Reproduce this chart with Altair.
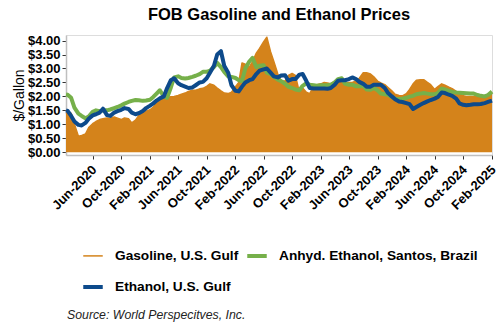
import altair as alt
import pandas as pd

title_text = "FOB Gasoline and Ethanol Prices"
y_title = "$/Gallon"
source_text = "Source: World Perspecitves, Inc."

series_names = ["Gasoline, U.S. Gulf", "Anhyd. Ethanol, Santos, Brazil", "Ethanol, U.S. Gulf"]
series_colors = ["#D4831B", "#76B04A", "#0D4A8B"]
series_widths = [1.5, 4.0, 4.0]

# semi-monthly observation dates
dates = ["2020-02-08", "2020-02-15"] + [
    d.strftime("%Y-%m-%d") for d in pd.date_range("2020-03-01", "2025-02-01", freq="SMS")
]

gasoline = [
    1.42, 1.38, 1.40, 1.00, 0.57, 0.60, 0.65, 0.88, 1.02, 1.10,
    1.17, 1.20, 1.23, 1.22, 1.26, 1.22, 1.17, 1.23, 1.20, 1.05,
    1.15, 1.32, 1.40, 1.47, 1.52, 1.62, 1.75, 1.85, 1.92, 1.97,
    1.99, 2.00, 2.03, 2.08, 2.12, 2.18, 2.22, 2.22, 2.27, 2.29,
    2.36, 2.45, 2.40, 2.30, 2.20, 2.12, 2.10, 2.15, 2.35, 2.50,
    3.20, 3.15, 3.05, 3.25, 3.55, 3.72, 3.95, 4.12, 3.60, 3.25,
    2.80, 2.55, 2.55, 2.75, 2.82, 2.75, 2.15, 2.30, 2.15, 2.10,
    2.35, 2.42, 2.45, 2.50, 2.48, 2.45, 2.55, 2.55, 2.50, 2.48,
    2.50, 2.50, 2.55, 2.65, 2.85, 2.85, 2.80, 2.70, 2.55, 2.48,
    2.42, 2.32, 2.20, 2.08, 2.03, 2.02, 2.10, 2.25, 2.45, 2.58,
    2.60, 2.60, 2.50, 2.42, 2.25, 2.35, 2.45, 2.40, 2.33, 2.28,
    2.18, 2.10, 2.02, 2.00, 2.00, 2.00, 2.00, 1.95, 1.97, 2.02, 2.10,
]

ethanol_gulf = [
    1.50, 1.48, 1.30, 1.10, 0.98, 0.96, 1.05, 1.20, 1.32, 1.36,
    1.42, 1.56, 1.33, 1.30, 1.42, 1.47, 1.52, 1.58, 1.55, 1.42,
    1.36, 1.40, 1.48, 1.58, 1.67, 1.75, 1.85, 1.93, 2.00, 2.30,
    2.58, 2.65, 2.47, 2.40, 2.35, 2.30, 2.32, 2.40, 2.50, 2.52,
    2.65, 2.85, 3.10, 3.50, 3.62, 3.10, 2.85, 2.40, 2.20, 2.18,
    2.35, 2.50, 2.58, 2.62, 2.80, 2.92, 2.97, 3.00, 2.85, 2.72,
    2.68, 2.75, 2.76, 2.56, 2.62, 2.62, 2.78, 2.80, 2.55, 2.30,
    2.28, 2.28, 2.28, 2.28, 2.27, 2.30, 2.42, 2.56, 2.58, 2.58,
    2.62, 2.68, 2.62, 2.52, 2.45, 2.35, 2.35, 2.42, 2.42, 2.42,
    2.30, 2.12, 2.00, 1.90, 1.82, 1.80, 1.76, 1.72, 1.55, 1.62,
    1.70, 1.76, 1.82, 1.87, 1.92, 1.98, 2.14, 2.12, 2.06, 2.02,
    1.92, 1.75, 1.70, 1.68, 1.70, 1.72, 1.72, 1.73, 1.76, 1.80, 1.85,
]

ethanol_santos = [
    2.07, 2.06, 1.95, 1.60, 1.38, 1.30, 1.22, 1.28, 1.45, 1.50,
    1.47, 1.50, 1.50, 1.53, 1.58, 1.62, 1.68, 1.74, 1.80, 1.84,
    1.87, 1.86, 1.84, 1.85, 1.88, 1.98, 2.10, 2.22, 2.00, 1.95,
    2.32, 2.68, 2.72, 2.66, 2.64, 2.66, 2.70, 2.74, 2.80, 2.88,
    2.88, 2.92, 3.05, 3.20, 3.05, 2.88, 2.72, 2.70, 2.66, 2.58,
    2.55, 3.00, 3.25, 3.38, 3.05, 3.10, 3.12, 2.85, 2.80, 2.70,
    2.60, 2.55, 2.45, 2.35, 2.30, 2.25, 2.22, 2.38, 2.47, 2.42,
    2.40, 2.38, 2.40, 2.40, 2.40, 2.42, 2.50, 2.62, 2.65, 2.45,
    2.42, 2.42, 2.36, 2.36, 2.38, 2.25, 2.24, 2.30, 2.22, 2.10,
    2.08, 2.06, 1.98, 1.92, 1.90, 1.92, 1.95, 1.99, 2.02, 2.08,
    2.10, 2.12, 2.10, 2.08, 2.08, 2.12, 2.28, 2.25, 2.20, 2.16,
    2.14, 2.13, 2.12, 2.11, 2.10, 2.10, 2.05, 2.02, 2.00, 2.05, 2.17,
]

y_ticks = [0.0, 0.5, 1.0, 1.5, 2.0, 2.5, 3.0, 3.5, 4.0]
x_tick_months = [(2020, 6), (2020, 10), (2021, 2), (2021, 6), (2021, 10), (2022, 2), (2022, 6),
                 (2022, 10), (2023, 2), (2023, 6), (2023, 10), (2024, 2), (2024, 6), (2024, 10),
                 (2025, 2)]

FONT = "Liberation Sans"

wide = pd.DataFrame({"date": dates, "gas": gasoline, "santos": ethanol_santos, "gulf": ethanol_gulf})
long = pd.concat([
    pd.DataFrame({"date": dates, "series": series_names[0], "price": gasoline}),
    pd.DataFrame({"date": dates, "series": series_names[1], "price": ethanol_santos}),
    pd.DataFrame({"date": dates, "series": series_names[2], "price": ethanol_gulf}),
], ignore_index=True)
long["sid"] = long["series"].map({n: i for i, n in enumerate(series_names)})

x_scale = alt.Scale(
    type="utc",
    domain=[alt.DateTime(year=2020, month=2, date=8, utc=True),
            alt.DateTime(year=2025, month=2, date=1, utc=True)],
)
y_scale = alt.Scale(domain=[-0.1, 4.2], nice=False, zero=False)

x_axis = alt.Axis(
    values=[alt.DateTime(year=y, month=m, date=1, utc=True) for y, m in x_tick_months],
    format="%b-%Y", labelAngle=-45, labelAlign="right", labelBaseline="top",
    labelFont=FONT, labelFontSize=13, labelFontWeight="bold", labelColor="black",
    labelPadding=4, labelOffset=-3, labelOverlap=False, labelFlush=False,
    tickColor="#333333", tickSize=4, domainColor="#BFBFBF", domainWidth=1.5,
    grid=False, title=None,
)
y_axis = alt.Axis(
    values=y_ticks, labelExpr="'$' + format(datum.value, '.2f')",
    labelFont=FONT, labelFontSize=13, labelFontWeight="bold", labelColor="black",
    labelPadding=2, labelOverlap=False, labelFlush=False,
    tickColor="#333333", tickSize=4, domainColor="#BFBFBF", domainWidth=1.5,
    grid=False, title=y_title, titleFont=FONT, titleFontSize=14, titleFontWeight="normal",
    titleColor="black", titleX=-47, titleY=60, titleAlign="center", titleBaseline="middle",
)

legend = alt.Legend(
    title=None, orient="none", legendX=15, legendY=209, columns=2, direction="horizontal",
    symbolType="stroke", symbolSize=380, labelFont=FONT, labelFontSize=13.7,
    labelFontWeight="bold", labelColor="black", labelOffset=10, labelLimit=400,
    columnPadding=0, rowPadding=11,
)

color_scale = alt.Scale(domain=series_names, range=series_colors)
width_scale = alt.Scale(type="ordinal", domain=series_names, range=series_widths)

X = alt.X("date:T", scale=x_scale, axis=x_axis)

area = alt.Chart(wide).mark_area(color=series_colors[0]).encode(
    x=X,
    y=alt.Y("gas:Q", scale=y_scale, axis=y_axis),
    y2=alt.datum(0),
)


def line_layer(idx):
    return alt.Chart(long).transform_filter(alt.datum.sid == idx).mark_line(
        strokeJoin="round"
    ).encode(
        x=X,
        y=alt.Y("price:Q", scale=y_scale, axis=y_axis),
        color=alt.Color("series:N", scale=color_scale, legend=legend),
        strokeWidth=alt.StrokeWidth("series:N", scale=width_scale, legend=legend),
    )


source = alt.Chart(alt.Data(values=[{"t": source_text}])).mark_text(
    align="left", baseline="alphabetic", font=FONT, fontSize=12.3,
    fontStyle="italic", color="#222222",
).encode(x=alt.value(1), y=alt.value(284), text="t:N")

chart = alt.layer(
    area,
    line_layer(0),
    line_layer(1),
    line_layer(2),
    source,
).properties(
    width=426, height=120,
    title=alt.TitleParams(title_text, font=FONT, fontSize=16.5, fontWeight="bold",
                          color="black", anchor="middle", baseline="alphabetic", offset=-2),
    autosize=alt.AutoSizeParams(type="none"),
    padding={"left": 66, "top": 35, "right": 8, "bottom": 175},
).configure_view(stroke=None).configure(background="white")

chart.save("out.html", embed_options={"renderer": "svg", "actions": False})
